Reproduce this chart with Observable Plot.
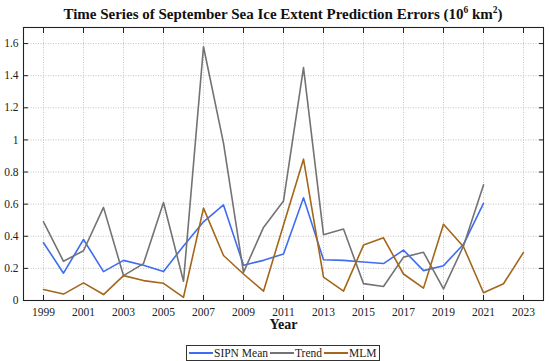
<!DOCTYPE html>
<html><head><meta charset="utf-8">
<script src="https://cdn.jsdelivr.net/npm/d3@7"></script>
<script src="https://cdn.jsdelivr.net/npm/@observablehq/plot@0.6"></script>
<style>
body{margin:0;background:#fff;}
#wrap{position:relative;width:550px;height:361px;font-family:"Liberation Serif","Times New Roman",serif;color:#222;}
#title{position:absolute;left:23px;width:520px;top:5px;text-align:center;font-weight:bold;font-size:15px;line-height:18px;color:#111;white-space:nowrap;}
#title sup{font-size:9.5px;line-height:0;vertical-align:6px;}
#legend{position:absolute;left:186px;top:345px;width:192px;height:14px;border:1px solid #333;background:#fff;display:flex;align-items:center;font-size:11.5px;line-height:14px;box-sizing:content-box;color:#222;}
#legend .sw{display:inline-block;width:24px;height:2px;margin:0 1px 0 2px;}
#chart{position:absolute;left:0;top:0;}
</style></head>
<body>
<div id="wrap">
  <div id="chart"></div>
  <div id="title"></div>
  <div id="legend"></div>
</div>
<script>
const years = [1999,2000,2001,2002,2003,2004,2005,2006,2007,2008,2009,2010,2011,2012,2013,2014,2015,2016,2017,2018,2019,2020,2021,2022,2023];
const sipnMean = [0.36,0.17,0.38,0.18,0.25,0.22,0.18,0.34,0.49,0.595,0.22,0.25,0.29,0.64,0.254,0.25,0.24,0.23,0.314,0.186,0.217,0.35,0.605];
const trend = [0.49,0.244,0.31,0.58,0.155,0.23,0.61,0.12,1.58,0.98,0.175,0.455,0.62,1.45,0.41,0.445,0.105,0.087,0.27,0.30,0.072,0.34,0.72];
const mlm = [0.068,0.04,0.11,0.037,0.155,0.124,0.107,0.02,0.575,0.28,0.165,0.058,0.47,0.88,0.145,0.058,0.345,0.39,0.165,0.077,0.475,0.335,0.048,0.104,0.30];
const seriesNames = ["SIPN Mean","Trend","MLM"];
const seriesColors = ["#3f6cf0","#737373","#a4661a"];
const xTicks = [1999,2001,2003,2005,2007,2009,2011,2013,2015,2017,2019,2021,2023];
const yTicks = [0,0.2,0.4,0.6,0.8,1,1.2,1.4,1.6];
const titleText = "Time Series of September Sea Ice Extent Prediction Errors (10<sup>6</sup> km<sup>2</sup>)";
const xLabel = "Year";

const seriesValues = [sipnMean, trend, mlm];
const rows = seriesNames.flatMap((name, k) => seriesValues[k].map((v, i) => ({year: years[i], value: v, series: name})));

const gridStyle = {stroke:"#b5b5b5", strokeOpacity:1, strokeDasharray:"1,1.5", strokeWidth:0.8};
const chart = Plot.plot({
  width: 550, height: 361,
  marginTop: 27, marginLeft: 23, marginRight: 7, marginBottom: 61,
  style: {fontFamily: "'Liberation Serif','Times New Roman',serif", fontSize: "11.5px", color: "#222", background: "white"},
  x: {domain: [1998, 2024]},
  y: {domain: [0, 1.7]},
  color: {domain: seriesNames, range: seriesColors},
  marks: [
    Plot.gridX(xTicks, gridStyle),
    Plot.gridY(yTicks, gridStyle),
    Plot.line(rows, {x: "year", y: "value", z: "series", stroke: "series", strokeWidth: 1.6}),
    Plot.frame({stroke: "#222", strokeWidth: 1.1}),
    Plot.axisX(xTicks, {anchor: "bottom", tickSize: -5, tickPadding: 12, tickFormat: d => String(d), label: null}),
    Plot.axisX(xTicks, {anchor: "top", tickSize: -5, tickFormat: () => "", label: null}),
    Plot.axisY(yTicks, {anchor: "left", tickSize: -5, tickPadding: 10, tickFormat: d => String(+d.toFixed(1)), label: null}),
    Plot.axisY(yTicks, {anchor: "right", tickSize: -5, tickFormat: () => "", label: null}),
    Plot.text([xLabel], {frameAnchor: "bottom", dy: 28, fontWeight: "bold", fontSize: 14, fill: "#111"})
  ]
});
document.getElementById("chart").appendChild(chart);
document.getElementById("title").innerHTML = titleText;
const legend = document.getElementById("legend");
seriesNames.forEach((name, i) => {
  const sw = document.createElement("span");
  sw.className = "sw";
  sw.style.background = seriesColors[i];
  const t = document.createElement("span");
  t.textContent = name;
  legend.appendChild(sw);
  legend.appendChild(t);
});
</script>
</body></html>
